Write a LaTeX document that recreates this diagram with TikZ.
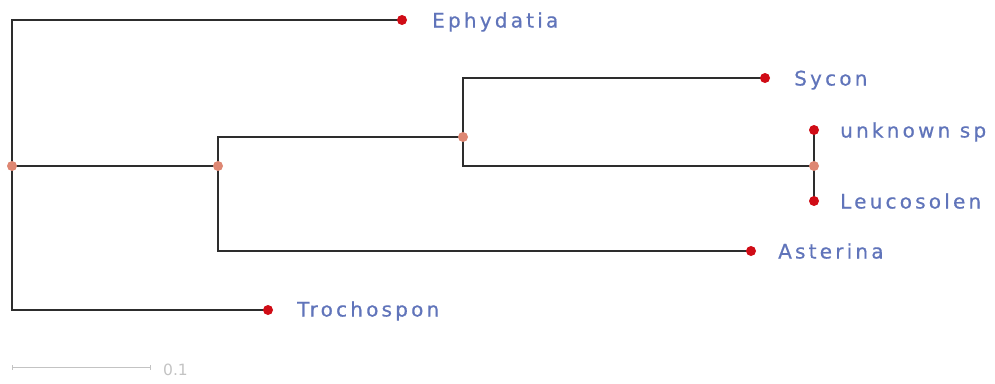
\documentclass[tikz,border=0pt]{standalone}
\usepackage{fontspec}
\setmainfont{DejaVu Sans}
\newfontfamily\taxfont[LetterSpace=16,FakeBold=0.6]{DejaVu Sans}
\usetikzlibrary{backgrounds}
\definecolor{taxblue}{RGB}{96,116,186}
\definecolor{leafred}{RGB}{208,12,22}
\definecolor{innersalmon}{RGB}{222,135,115}
\definecolor{branchgray}{RGB}{45,45,45}
\definecolor{scalegray}{RGB}{195,195,195}
\tikzset{
  leafdot/.style={circle,fill=leafred,inner sep=0pt,minimum size=10pt},
  innerdot/.style={circle,fill=innersalmon,inner sep=0pt,minimum size=10pt},
  taxon/.style={anchor=base west,inner sep=0pt,text=taxblue,font=\taxfont\fontsize{20}{24}\selectfont},
  branch/.style={draw=branchgray,line width=1.8pt},
  scalebar/.style={draw=scalegray,line width=1pt},
}
\begin{document}
\begin{tikzpicture}[x=1pt,y=-1pt]
\useasboundingbox (0,0) rectangle (995,383);
% internal nodes
\node[innerdot] (root) at (12,166) {};
\node[innerdot] (n1) at (218,166) {};
\node[innerdot] (n2) at (463,137) {};
\node[innerdot] (n3) at (814,166) {};
% tips
\node[leafdot] (eph) at (402,20) {};
\node[leafdot] (syc) at (765,78) {};
\node[leafdot] (unk) at (814,130) {};
\node[leafdot] (leu) at (814,201) {};
\node[leafdot] (ast) at (751,251) {};
\node[leafdot] (tro) at (268,310) {};
% tip labels, baseline a little below the tip
\node[taxon] (ephL) at (432,27.5) {Ephydatia};
\node[taxon] (sycL) at (794,85.5) {Sycon};
\node[taxon] (unkL) at (840,137.5) {unknown sp};
\node[taxon] (leuL) at (840,208.5) {Leucosolen};
\node[taxon] (astL) at (778,258.5) {Asterina};
\node[taxon] (troL) at (297,316.5) {Trochospon};
% branches
\begin{scope}[on background layer]
\draw[branch] (root.center) |- (eph.center);
\draw[branch] (root.center) |- (tro.center);
\draw[branch] (root.center) -- (n1.center);
\draw[branch] (n1.center) |- (n2.center);
\draw[branch] (n1.center) |- (ast.center);
\draw[branch] (n2.center) |- (syc.center);
\draw[branch] (n2.center) |- (n3.center);
\draw[branch] (n3.center) -- (unk.center);
\draw[branch] (n3.center) -- (leu.center);
\end{scope}
% scale bar
\coordinate (sbA) at (12,367);
\coordinate (sbB) at (150,367);
\draw[scalebar] (sbA) -- (sbB);
\draw[scalebar] ([yshift=-2.5pt]sbA) -- ([yshift=2.5pt]sbA);
\draw[scalebar] ([yshift=-2.5pt]sbB) -- ([yshift=2.5pt]sbB);
\node[anchor=base west,inner sep=0pt,text=scalegray,font=\fontsize{15.5}{18}\selectfont] (sbL) at (163,375) {0.1};
\end{tikzpicture}
\end{document}
